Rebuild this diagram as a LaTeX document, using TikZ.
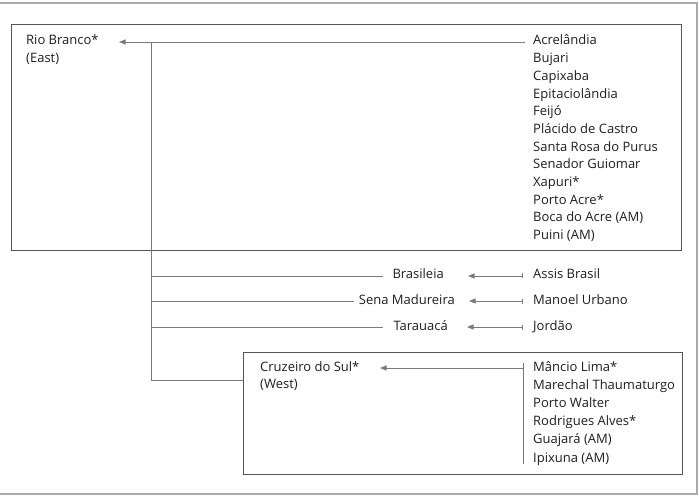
\documentclass[tikz,border=0pt]{standalone}
\usepackage{fontspec}
\setmainfont{Open Sans}
\usetikzlibrary{arrows.meta}
\definecolor{txt}{HTML}{1E1E1E}
\definecolor{lin}{HTML}{7A7A7A}
\definecolor{bord}{HTML}{555555}
\definecolor{frm}{HTML}{AAAAAA}
\tikzset{
  lbl/.style={inner sep=0pt, text height=9pt, text depth=3pt, text=txt, font=\fontsize{13}{15}\selectfont},
  ln/.style={draw=lin, line width=0.9pt},
  arr/.style={ln, -{Triangle[length=6.5pt,width=5pt]}},
  barr/.style={ln, {Bar[width=5pt,line width=0.9pt]}-{Triangle[length=6.5pt,width=5pt]}},
  boxst/.style={draw=bord, line width=1.1pt, inner sep=0pt},
  frame/.style={draw=frm, line width=1.5pt}
}
\begin{document}
\begin{tikzpicture}[x=1pt,y=-1pt]
\useasboundingbox (0,0) rectangle (699,497);
\draw[frame] (0,3) -- (697,3) -- (697,494) -- (0,494);
% boxes
\node[boxst, minimum width=670pt, minimum height=226pt, anchor=north west] (eastbox) at (11,24) {};
\node[boxst, minimum width=439pt, minimum height=122pt, anchor=north west] (westbox) at (243,352) {};
% east
\node[lbl, anchor=west] (rb) at (26,42) {Rio Branco*};
\node[lbl, anchor=west] (rbE) at (26,60) {(East)};
\foreach \t [count=\i] in {Acrelândia,Bujari,Capixaba,Epitaciolândia,Feijó,Plácido de Castro,Santa Rosa do Purus,Senador Guiomar,Xapuri*,Porto Acre*,Boca do Acre (AM),Puini (AM)}
  \node[lbl, anchor=west] (e\i) at (533,{42+17.7*(\i-1)}) {\t};
% middle
\node[lbl, anchor=east] (bra) at (444,276) {Brasileia};
\node[lbl, anchor=east] (sen) at (455,301) {Sena Madureira};
\node[lbl, anchor=east] (tar) at (448,327) {Tarauacá};
\node[lbl, anchor=west] (ab) at (533,276) {Assis Brasil};
\node[lbl, anchor=west] (mu) at (533,301) {Manoel Urbano};
\node[lbl, anchor=west] (jo) at (533,327) {Jordão};
% west
\node[lbl, anchor=west] (cz) at (260,368) {Cruzeiro do Sul*};
\node[lbl, anchor=west] (czW) at (260,385) {(West)};
\foreach \t [count=\i] in {Mâncio Lima*,Marechal Thaumaturgo,Porto Walter,Rodrigues Alves*,Guajará (AM),Ipixuna (AM)}
  \node[lbl, anchor=west] (w\i) at (533,{368+18.2*(\i-1)}) {\t};
% connectors
\coordinate (rbtip) at (119,42);
\coordinate (j0) at (151,42);
\coordinate (j4) at (151,380);
\draw[arr, shorten <=8pt] (e1.west) -- (rbtip);
\draw[ln] (j0) -- (j4) -- (j4 -| westbox.west);
\draw[ln] (j0 |- bra.west) -- (383,0 |- bra.west);
\draw[ln] (j0 |- sen.west) -- (354,0 |- sen.west);
\draw[ln] (j0 |- tar.west) -- (383,0 |- tar.west);
\draw[barr, shorten <=10pt] (ab.west) -- (468,0 |- bra.east);
\draw[barr, shorten <=10pt] (mu.west) -- (469,0 |- sen.east);
\draw[barr, shorten <=10pt] (jo.west) -- (467,0 |- tar.east);
\coordinate (bt) at (523,363);
\coordinate (bb) at (523,464);
\draw[ln] (bt) -- (bb);
\draw[arr] (523,0 |- w1.west) -- (380,0 |- cz.east);
\end{tikzpicture}
\end{document}
